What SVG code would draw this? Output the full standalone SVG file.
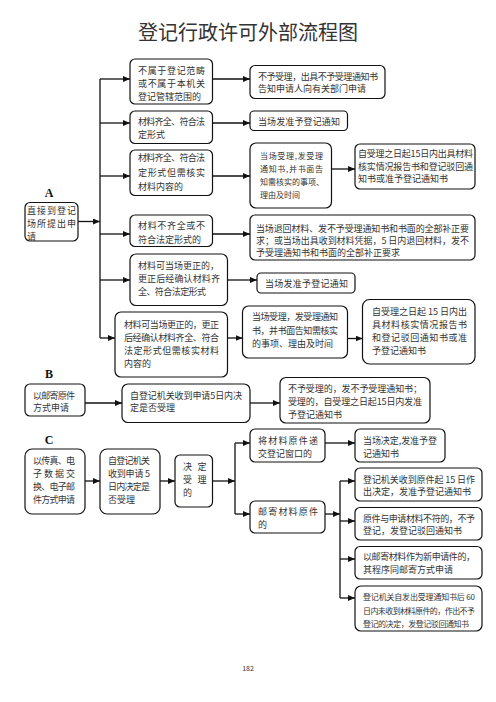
<svg xmlns="http://www.w3.org/2000/svg" width="496" height="702" viewBox="0 0 496 702">
<style>
.bg{fill:#fff}
.box{fill:#fff;stroke:#111;stroke-width:1.2}
.t{font-family:"Noto Sans CJK SC","Noto Sans",sans-serif;font-size:9px;fill:#333}
.s{font-size:8px}
.lab{font-family:"Liberation Serif",serif;font-size:12px;font-weight:bold;fill:#111;text-anchor:middle}
.title{font-family:"Noto Sans CJK SC",sans-serif;font-size:20px;fill:#333;text-anchor:middle}
.c{fill:none;stroke:#111;stroke-width:1.3}
</style>
<defs>
<marker id="ah" markerUnits="userSpaceOnUse" markerWidth="7" markerHeight="6" refX="7" refY="3" orient="auto">
<path d="M0,0 L7,3 L0,6 Z" fill="#111"/>
</marker>
</defs>
<rect class="bg" x="0" y="0" width="496" height="702"/>
<text class="title" x="248" y="40">登记行政许可外部流程图</text>
<text class="lab" x="49" y="197">A</text>
<text class="lab" x="49" y="378">B</text>
<text class="lab" x="49" y="444">C</text>
<text class="t" x="248" y="671" style="font-size:7px;text-anchor:middle">182</text>

<g id="connectors">
<path class="c" d="M100,79 V338"/>
<path class="c" d="M78,221.5 H100" marker-end="url(#ah)"/>
<path class="c" d="M100,79 H130" marker-end="url(#ah)"/>
<path class="c" d="M100,123 H130" marker-end="url(#ah)"/>
<path class="c" d="M100,176 H130" marker-end="url(#ah)"/>
<path class="c" d="M100,234 H130" marker-end="url(#ah)"/>
<path class="c" d="M100,280 H130" marker-end="url(#ah)"/>
<path class="c" d="M100,338 H115" marker-end="url(#ah)"/>
<path class="c" d="M212.5,79 H250" marker-end="url(#ah)"/>
<path class="c" d="M212.5,123 H250" marker-end="url(#ah)"/>
<path class="c" d="M212.5,176 H250" marker-end="url(#ah)"/>
<path class="c" d="M212.5,234 H250" marker-end="url(#ah)"/>
<path class="c" d="M227.5,280 H257" marker-end="url(#ah)"/>
<path class="c" d="M227.5,338 H242.5" marker-end="url(#ah)"/>
<path class="c" d="M331.5,169 H355" marker-end="url(#ah)"/>
<path class="c" d="M347.5,338.5 H362.5" marker-end="url(#ah)"/>
<path class="c" d="M85,403 H122" marker-end="url(#ah)"/>
<path class="c" d="M250,403 H280" marker-end="url(#ah)"/>
<path class="c" d="M85,481 H100" marker-end="url(#ah)"/>
<path class="c" d="M160,481 H175" marker-end="url(#ah)"/>
<path class="c" d="M212.5,481 H235" marker-end="url(#ah)"/>
<path class="c" d="M235,443 V514"/>
<path class="c" d="M235,443 H250" marker-end="url(#ah)"/>
<path class="c" d="M235,514 H250" marker-end="url(#ah)"/>
<path class="c" d="M325,443 H355" marker-end="url(#ah)"/>
<path class="c" d="M325,514 H340" marker-end="url(#ah)"/>
<path class="c" d="M340,481 V598"/>
<path class="c" d="M340,481 H355" marker-end="url(#ah)"/>
<path class="c" d="M340,521 H355" marker-end="url(#ah)"/>
<path class="c" d="M340,559 H355" marker-end="url(#ah)"/>
<path class="c" d="M340,598 H355" marker-end="url(#ah)"/>
</g>

<g id="n1"><rect class="box" x="130" y="59" width="82.5" height="45" rx="5"/>
<text class="t"><tspan x="138" y="73.5" textLength="67" lengthAdjust="spacing">不属于登记范畴</tspan><tspan x="138" y="86.5" textLength="67" lengthAdjust="spacing">或不属于本机关</tspan><tspan x="138" y="99.5">登记管辖范围的</tspan></text></g>

<g id="n2"><rect class="box" x="250" y="65.5" width="135" height="33" rx="5"/>
<text class="t"><tspan x="258" y="79.5" textLength="120" lengthAdjust="spacing">不予受理，出具不予受理通知书</tspan><tspan x="258" y="92">告知申请人向有关部门申请</tspan></text></g>

<g id="n3"><rect class="box" x="130" y="111" width="82.5" height="32.5" rx="5"/>
<text class="t"><tspan x="138" y="124.5" textLength="67" lengthAdjust="spacing">材料齐全、符合法</tspan><tspan x="138" y="138">定形式</tspan></text></g>

<g id="n4"><rect class="box" x="250" y="111" width="97.5" height="19.5" rx="4"/>
<text class="t"><tspan x="258" y="124.5" textLength="82" lengthAdjust="spacing">当场发准予登记通知</tspan></text></g>

<g id="n5"><rect class="box" x="130" y="150" width="82.5" height="45.5" rx="5"/>
<text class="t"><tspan x="138" y="161" textLength="67" lengthAdjust="spacing">材料齐全、符合法</tspan><tspan x="138" y="175.5" textLength="67" lengthAdjust="spacing">定形式但需核实</tspan><tspan x="138" y="189.5">材料内容的</tspan></text></g>

<g id="n6"><rect class="box" x="250" y="143" width="81.5" height="65" rx="6"/>
<text class="t s"><tspan x="260" y="158.5" textLength="63" lengthAdjust="spacing">当场受理,发受理</tspan><tspan x="260" y="171.5" textLength="63" lengthAdjust="spacing">通知书,并书面告</tspan><tspan x="260" y="185">知需核实的事项、</tspan><tspan x="260" y="198">理由及时间</tspan></text></g>

<g id="n7"><rect class="box" x="355" y="144" width="120" height="45" rx="5"/>
<text class="t"><tspan x="358" y="157" textLength="115" lengthAdjust="spacing">自受理之日起15日内出具材料</tspan><tspan x="358" y="169.5" textLength="115" lengthAdjust="spacing">核实情况报告书和登记驳回通</tspan><tspan x="358" y="182">知书或准予登记通知书</tspan></text></g>

<g id="n8"><rect class="box" x="25" y="202.5" width="53" height="38.5" rx="5"/>
<text class="t"><tspan x="27" y="214" textLength="49" lengthAdjust="spacing">直接到登记</tspan><tspan x="27" y="227" textLength="49" lengthAdjust="spacing">场所提出申</tspan><tspan x="27" y="239.5">请</tspan></text></g>

<g id="n9"><rect class="box" x="130" y="215" width="82.5" height="31.5" rx="5"/>
<text class="t"><tspan x="138" y="228.5" textLength="67" lengthAdjust="spacing">材料不齐全或不</tspan><tspan x="138" y="242.5">符合法定形式的</tspan></text></g>

<g id="n10"><rect class="box" x="250" y="215" width="225" height="45" rx="5"/>
<text class="t"><tspan x="256" y="231.5" textLength="213" lengthAdjust="spacing">当场退回材料、发不予受理通知书和书面的全部补正要</tspan><tspan x="256" y="243.5" textLength="213" lengthAdjust="spacing">求；或当场出具收到材料凭据，5 日内退回材料，发不</tspan><tspan x="256" y="255.5">予受理通知书和书面的全部补正要求</tspan></text></g>

<g id="n11"><rect class="box" x="130" y="254" width="97.5" height="51.5" rx="6"/>
<text class="t"><tspan x="138" y="268.5" textLength="81" lengthAdjust="spacing">材料可当场更正的，</tspan><tspan x="138" y="281.5" textLength="82" lengthAdjust="spacing">更正后经确认材料齐</tspan><tspan x="138" y="294.5" textLength="68" lengthAdjust="spacing">全、符合法定形式</tspan></text></g>

<g id="n12"><rect class="box" x="257" y="273" width="98" height="20" rx="4"/>
<text class="t"><tspan x="265" y="287" textLength="83" lengthAdjust="spacing">当场发准予登记通知</tspan></text></g>

<g id="n13"><rect class="box" x="115" y="312" width="112.5" height="65" rx="6"/>
<text class="t"><tspan x="124" y="327.5" textLength="95" lengthAdjust="spacing">材料可当场更正的，更正</tspan><tspan x="124" y="340.5" textLength="95" lengthAdjust="spacing">后经确认材料齐全、符合</tspan><tspan x="124" y="353.5" textLength="95" lengthAdjust="spacing">法定形式但需核实材料</tspan><tspan x="124" y="366.5">内容的</tspan></text></g>

<g id="n14"><rect class="box" x="242.5" y="306" width="105" height="52" rx="6"/>
<text class="t"><tspan x="252" y="320" textLength="86" lengthAdjust="spacing">当场受理，发受理通知</tspan><tspan x="252" y="333.5" textLength="86" lengthAdjust="spacing">书，并书面告知需核实</tspan><tspan x="252" y="347">的事项、理由及时间</tspan></text></g>

<g id="n15"><rect class="box" x="362.5" y="299.5" width="112.5" height="64.5" rx="7"/>
<text class="t"><tspan x="372" y="315" textLength="95" lengthAdjust="spacing">自受理之日起 15 日内出</tspan><tspan x="372" y="328" textLength="95" lengthAdjust="spacing">具材料核实情况报告书</tspan><tspan x="372" y="340.5" textLength="95" lengthAdjust="spacing">和登记驳回通知书或准</tspan><tspan x="372" y="353.5">予登记通知书</tspan></text></g>

<g id="n16"><rect class="box" x="25" y="384" width="60" height="32" rx="5"/>
<text class="t"><tspan x="33" y="398.5" textLength="42" lengthAdjust="spacing">以邮寄原件</tspan><tspan x="33" y="411">方式申请</tspan></text></g>

<g id="n17"><rect class="box" x="122" y="384" width="128" height="38.5" rx="6"/>
<text class="t"><tspan x="130" y="398.5" textLength="112" lengthAdjust="spacing">自登记机关收到申请5日内决</tspan><tspan x="130" y="411">定是否受理</tspan></text></g>

<g id="n18"><rect class="box" x="280" y="377.5" width="150" height="45.5" rx="6"/>
<text class="t"><tspan x="288" y="392" textLength="134" lengthAdjust="spacing">不予受理的，发不予受理通知书；</tspan><tspan x="288" y="405" textLength="134" lengthAdjust="spacing">受理的，自受理之日起15日内发准</tspan><tspan x="288" y="417.5">予登记通知书</tspan></text></g>

<g id="n19"><rect class="box" x="25" y="449" width="60" height="65" rx="7"/>
<text class="t"><tspan x="33" y="463.5" textLength="42" lengthAdjust="spacing">以传真、电</tspan><tspan x="33" y="476.5" textLength="42" lengthAdjust="spacing">子数据交</tspan><tspan x="33" y="489.5" textLength="42" lengthAdjust="spacing">换、电子邮</tspan><tspan x="33" y="502.5" textLength="42" lengthAdjust="spacing">件方式申请</tspan></text></g>

<g id="n20"><rect class="box" x="100" y="449" width="60" height="65" rx="7"/>
<text class="t"><tspan x="108" y="463.5" textLength="42" lengthAdjust="spacing">自登记机关</tspan><tspan x="108" y="476.5" textLength="42" lengthAdjust="spacing">收到申请 5</tspan><tspan x="108" y="489.5" textLength="42" lengthAdjust="spacing">日内决定是</tspan><tspan x="108" y="502.5">否受理</tspan></text></g>

<g id="n21"><rect class="box" x="175" y="455" width="37.5" height="52" rx="5"/>
<text class="t"><tspan x="183" y="470">决</tspan><tspan x="197.5" y="470">定</tspan><tspan x="183" y="483">受</tspan><tspan x="197.5" y="483">理</tspan><tspan x="183" y="495.5">的</tspan></text></g>

<g id="n22"><rect class="box" x="250" y="429" width="75" height="33" rx="5"/>
<text class="t"><tspan x="258" y="444" textLength="60" lengthAdjust="spacing">将材料原件递</tspan><tspan x="258" y="456.5">交登记窗口的</tspan></text></g>

<g id="n23"><rect class="box" x="355" y="429" width="90" height="33" rx="5"/>
<text class="t"><tspan x="363" y="444" textLength="74" lengthAdjust="spacing">当场决定,发准予登</tspan><tspan x="363" y="456.5">记通知书</tspan></text></g>

<g id="n24"><rect class="box" x="250" y="501" width="75" height="32" rx="5"/>
<text class="t"><tspan x="258" y="515" textLength="60" lengthAdjust="spacing">邮寄材料原件</tspan><tspan x="258" y="527.5">的</tspan></text></g>

<g id="n25"><rect class="box" x="355" y="468" width="127" height="33" rx="5"/>
<text class="t"><tspan x="363" y="482.5" textLength="112" lengthAdjust="spacing">登记机关收到原件起 15 日作</tspan><tspan x="363" y="494.5">出决定，发准予登记通知书</tspan></text></g>

<g id="n26"><rect class="box" x="355" y="507.5" width="127" height="32.5" rx="5"/>
<text class="t"><tspan x="363" y="521.5" textLength="112" lengthAdjust="spacing">原件与申请材料不符的，不予</tspan><tspan x="363" y="533.5">登记，发登记驳回通知书</tspan></text></g>

<g id="n27"><rect class="box" x="355" y="546.5" width="127" height="32.5" rx="5"/>
<text class="t"><tspan x="363" y="560" textLength="112" lengthAdjust="spacing">以邮寄材料作为新申请件的，</tspan><tspan x="363" y="572.5">其程序同邮寄方式申请</tspan></text></g>

<g id="n28"><rect class="box" x="355" y="586" width="127" height="45" rx="6"/>
<text class="t s"><tspan x="363" y="599.5" textLength="112" lengthAdjust="spacing">登记机关自发出受理通知书后 60</tspan><tspan x="363" y="613.5" textLength="112" lengthAdjust="spacing">日内未收到材料原件的，作出不予</tspan><tspan x="363" y="627" textLength="106" lengthAdjust="spacing">登记的决定，发登记驳回通知书</tspan></text></g>
</svg>
